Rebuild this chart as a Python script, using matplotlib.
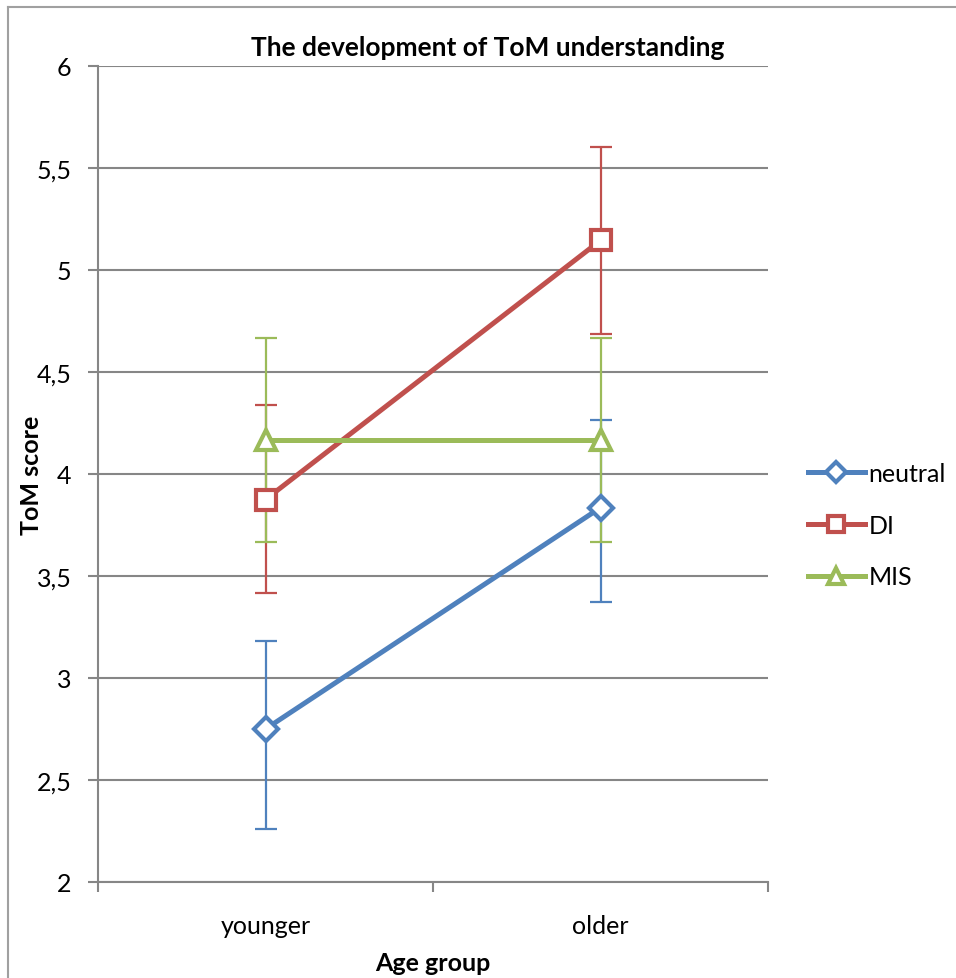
import matplotlib.pyplot as plt
from matplotlib.lines import Line2D
from matplotlib.ticker import FuncFormatter

plt.rcParams['font.family'] = ['Lato', 'DejaVu Sans']

groups = ["younger", "older"]
series = ["neutral", "DI", "MIS"]
colors = ["#4F81BD", "#C0504D", "#9BBB59"]
markers = ["D", "s", "^"]

neutral = [2.75, 3.835]
di = [3.875, 5.145]
mis = [4.167, 4.167]

neutral_lo = [0.49, 0.46]
neutral_hi = [0.43, 0.43]
di_lo = [0.46, 0.46]
di_hi = [0.465, 0.46]
mis_lo = [0.5, 0.5]
mis_hi = [0.5, 0.5]

values = [neutral, di, mis]
errs = [(neutral_lo, neutral_hi), (di_lo, di_hi), (mis_lo, mis_hi)]

fig = plt.figure(figsize=(9.56, 9.79), dpi=100)
ax = fig.add_axes([98 / 956, 1 - 883 / 979, 670 / 956, 816 / 979])

x = [0.5, 1.5]
grid_c = "#868686"

for vals, (lo, hi), c in zip(values, errs, colors):
    ax.errorbar(x, vals, yerr=[lo, hi], fmt="none", ecolor=c, elinewidth=1.6,
                capsize=8, capthick=1.6, zorder=3)

for vals, c, m, name in zip(values, colors, markers, series):
    ms = 12 if m == "D" else 14
    ax.plot(x, vals, color=c, lw=3.6, marker=m, markersize=ms,
            markerfacecolor="white", markeredgecolor=c, markeredgewidth=3,
            zorder=4, label=name)

ax.set_xlim(0, 2)
ax.set_ylim(2, 6)
ax.set_yticks([2 + 0.5 * i for i in range(9)])
ax.yaxis.set_major_formatter(FuncFormatter(lambda v, p: f"{v:g}".replace(".", ",")))
ax.set_xticks([0, 1, 2])
ax.set_xticklabels([])
ax.set_xticks(x, minor=True)
ax.set_xticklabels(groups, minor=True)
ax.tick_params(axis="x", which="minor", length=0, labelsize=18, pad=23)
ax.tick_params(axis="x", which="major", length=7, color=grid_c, width=1.5, direction="out")
ax.tick_params(axis="y", length=7, color=grid_c, width=1.5, direction="out", labelsize=18, pad=12)

ax.grid(axis="y", color=grid_c, lw=1.5)
ax.set_axisbelow(True)
for s in ["top", "right"]:
    ax.spines[s].set_visible(False)
for s in ["left", "bottom"]:
    ax.spines[s].set_color(grid_c)
    ax.spines[s].set_linewidth(1.5)

fig.text(488 / 956, 1 - 48 / 979, "The development of ToM understanding",
         ha="center", va="center", fontsize=19, fontweight="bold")
fig.text(32 / 956, 1 - 475 / 979, "ToM score", rotation=90, ha="center",
         va="center", fontsize=18, fontweight="bold")
fig.text(433 / 956, 1 - 964 / 979, "Age group", ha="center", va="center",
         fontsize=18, fontweight="bold")

handles = [Line2D([], [], color=c, lw=3.6, marker=m, markersize=(10 if m == "D" else 12),
                  markerfacecolor="white", markeredgecolor=c, markeredgewidth=3)
           for c, m in zip(colors, markers)]
fig.legend(handles, series, loc="center left", bbox_to_anchor=(795 / 956, 1 - 526 / 979),
           frameon=False, fontsize=18, handlelength=2.3, handletextpad=0.15,
           labelspacing=1.15, borderpad=0)

# outer chart border
fig.add_artist(Line2D([8 / 956, 8 / 956], [0, 1 - 8 / 979], color="#A0A0A0", lw=1.5))
fig.add_artist(Line2D([8 / 956, 1], [1 - 8 / 979, 1 - 8 / 979], color="#A0A0A0", lw=1.5))

fig.savefig("out.png", dpi=100)
